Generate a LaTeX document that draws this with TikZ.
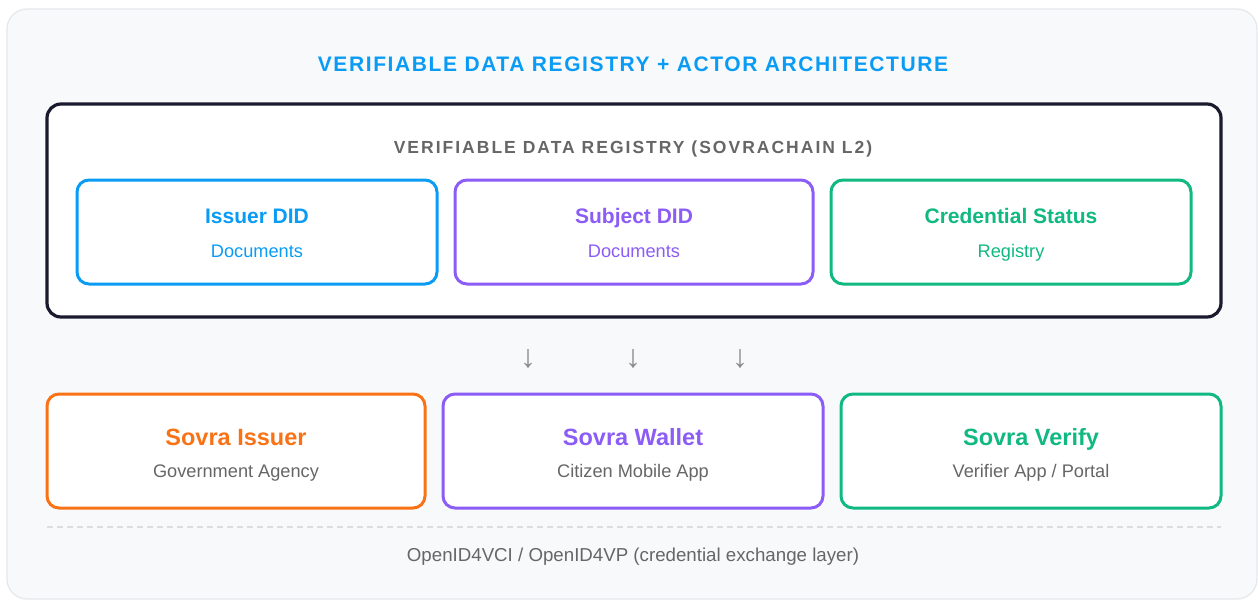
\documentclass[tikz,border=0pt]{standalone}
\usepackage{fontspec}
\setmainfont{Liberation Sans}
\definecolor{panelfill}{HTML}{F8F9FB}
\definecolor{panelline}{HTML}{E5E7EB}
\definecolor{inkdark}{HTML}{1A1A2E}
\definecolor{skyblue}{HTML}{0A9CF5}
\definecolor{violet}{HTML}{8B5CF6}
\definecolor{emerald}{HTML}{10B981}
\definecolor{tangerine}{HTML}{F97316}
\definecolor{graytext}{HTML}{666666}
\definecolor{arrowgray}{HTML}{8A8A8A}
\definecolor{dashgray}{HTML}{DDDDDD}
\tikzset{
  registry/.style={draw=inkdark, line width=3.2pt, fill=white, rounded corners=14pt},
  card/.style={draw=#1, line width=3pt, fill=white, rounded corners=12pt},
  headline/.style={anchor=base, font=\fontsize{21}{25}\selectfont\bfseries\addfontfeatures{LetterSpace=7.6}, text=skyblue},
  subhead/.style={anchor=base, font=\fontsize{17.5}{21}\selectfont\bfseries\addfontfeatures{LetterSpace=11.5}, text=graytext},
  cardtitle/.style={anchor=base, font=\fontsize{21}{25}\selectfont\bfseries, text=#1},
  cardnote/.style={anchor=base, font=\fontsize{18.2}{22}\selectfont, text=#1},
  footnote/.style={anchor=base, font=\fontsize{18.7}{22}\selectfont, text=graytext},
  actortitle/.style={anchor=base, font=\fontsize{23.5}{28}\selectfont\bfseries, text=#1},
  downarrow/.style={font=\fontsize{32}{36}\selectfont, text=arrowgray, inner sep=0pt},
}
\begin{document}
\begin{tikzpicture}[x=1pt, y=-1pt]
\useasboundingbox (0,0) rectangle (1258,600);
% background panel
\draw[fill=panelfill, draw=panelline, line width=1.2pt, rounded corners=20pt] (7,9) rectangle (1257,599);

\node[headline] (head) at (633,71) {VERIFIABLE DATA REGISTRY + ACTOR ARCHITECTURE};

% registry container
\node[registry, minimum width=1174pt, minimum height=213pt] (vdr) at (634,210.5) {};
\node[subhead] (vdrlabel) at (633,153) {VERIFIABLE DATA REGISTRY (SOVRACHAIN L2)};

% registry entries
\node[card=skyblue, minimum width=360pt, minimum height=104pt] (issuerdid) at (257,232) {};
\node[cardtitle=skyblue] at (issuerdid.center |- 0,223) {Issuer DID};
\node[cardnote=skyblue] at (issuerdid.center |- 0,257) {Documents};

\node[card=violet, minimum width=358pt, minimum height=104pt] (subjectdid) at (634,232) {};
\node[cardtitle=violet] at (subjectdid.center |- 0,223) {Subject DID};
\node[cardnote=violet] at (subjectdid.center |- 0,257) {Documents};

\node[card=emerald, minimum width=360pt, minimum height=104pt] (status) at (1011,232) {};
\node[cardtitle=emerald] at (status.center |- 0,223) {Credential Status};
\node[cardnote=emerald] at (status.center |- 0,257) {Registry};

% down arrows
\node[downarrow] (arr1) at (528,359) {↓};
\node[downarrow] (arr2) at (633,359) {↓};
\node[downarrow] (arr3) at (740,359) {↓};

% actors
\node[card=tangerine, minimum width=378pt, minimum height=114pt] (issuer) at (236,451) {};
\node[actortitle=tangerine] at (issuer.center |- 0,445) {Sovra Issuer};
\node[cardnote=graytext] at (issuer.center |- 0,477) {Government Agency};

\node[card=violet, minimum width=380pt, minimum height=114pt] (wallet) at (633,451) {};
\node[actortitle=violet] at (wallet.center |- 0,445) {Sovra Wallet};
\node[cardnote=graytext] at (wallet.center |- 0,477) {Citizen Mobile App};

\node[card=emerald, minimum width=380pt, minimum height=114pt] (verify) at (1031,451) {};
\node[actortitle=emerald] at (verify.center |- 0,445) {Sovra Verify};
\node[cardnote=graytext] at (verify.center |- 0,477) {Verifier App / Portal};

% exchange layer
\coordinate (layerL) at (47,527);
\coordinate (layerR) at (1221,527);
\draw[dashgray, line width=1.5pt, dash pattern=on 6pt off 4pt] (layerL) -- (layerR);
\node[footnote] (layer) at (633,561) {OpenID4VCI / OpenID4VP (credential exchange layer)};
\end{tikzpicture}
\end{document}
